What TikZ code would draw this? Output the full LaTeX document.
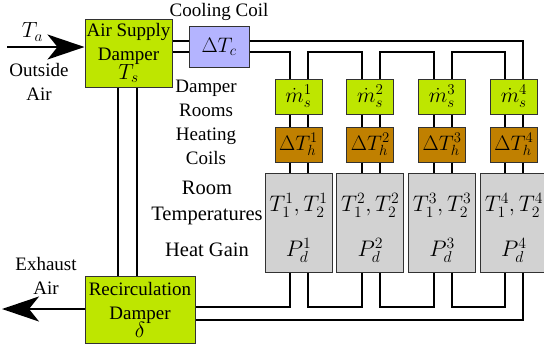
\RequirePackage{fix-cm}
\documentclass[tikz,border=0pt]{standalone}
\usepackage{fontspec}
\setmainfont{Liberation Serif}
\newfontfamily\tnr{Liberation Serif}
\usetikzlibrary{arrows.meta,calc}
\definecolor{limeg}{RGB}{190,230,0}
\definecolor{lav}{RGB}{180,180,255}
\definecolor{brownh}{RGB}{192,128,0}
\definecolor{grayr}{RGB}{210,210,210}
\definecolor{edge}{RGB}{50,50,50}
\newcommand{\lgmath}[1]{{\fontsize{22}{22}\selectfont$#1$}}
\begin{document}
\begin{tikzpicture}[x=1pt,y=-1pt,
  base/.style={draw=edge,line width=1pt,inner sep=0pt,align=center,font=\tnr\fontsize{19}{22}\selectfont},
  greenbox/.style={base,fill=limeg},
  coolbox/.style={base,fill=lav,minimum width=60pt,minimum height=41pt,font=\tnr\fontsize{21}{22}\selectfont},
  dampbox/.style={base,fill=limeg,minimum width=47pt,minimum height=35pt,font=\tnr\fontsize{21.5}{22}\selectfont},
  heatbox/.style={base,fill=brownh,minimum width=47pt,minimum height=35pt,font=\tnr\fontsize{21}{22}\selectfont},
  roombox/.style={base,fill=grayr,minimum width=67pt,minimum height=99pt},
  roomtxt/.style={inner sep=0pt,font=\tnr\fontsize{22.5}{22}\selectfont},
  lbl/.style={inner sep=0pt,align=center,font=\tnr\fontsize{19}{24}\selectfont},
  biglbl/.style={inner sep=0pt,align=center,font=\tnr\fontsize{20.5}{26}\selectfont},
  wire/.style={line width=2pt,draw=black},
  bigarrow/.style={line width=2pt,-{Stealth[length=37pt,width=25pt,inset=10pt]}}]
\useasboundingbox (0,0) rectangle (544,349);
\clip (0,0) rectangle (544,349);

% main boxes
\node[greenbox,minimum width=87pt,minimum height=68pt] (asd) at (128.5,53) {Air Supply\\[2pt]Damper\\[-3pt]\lgmath{T_s}};
\node[coolbox] (cc) at (219,46.5) {$\Delta T_c$};
\node[greenbox,minimum width=110pt,minimum height=67pt] (rd) at (140,309.5) {Recirculation\\[2pt]Damper\\[-4pt]\lgmath{\delta}};

\foreach \i in {1,...,4} {
  \pgfmathsetmacro{\cx}{298.5+71.8*(\i-1)}
  \node[dampbox] (m\i) at (\cx,96.5) {$\dot m_s^{\i}$};
  \node[heatbox] (h\i) at (\cx,144.5) {$\Delta T_h^{\i}$};
  \node[roombox] (r\i) at (\cx,222.5) {};
  \node[roomtxt] (rt\i) at (\cx,205.5) {$T_1^{\i},T_2^{\i}$};
  \node[roomtxt] (rp\i) at (\cx,250.5) {$P_d^{\i}$};
  \coordinate (mL\i) at ([xshift=-8.5pt]m\i.north);
  \coordinate (mR\i) at ([xshift=9.5pt]m\i.north);
  \coordinate (rL\i) at ([xshift=-8.5pt]r\i.south);
  \coordinate (rR\i) at ([xshift=9.5pt]r\i.south);
}

% labels
\node[lbl] (cclbl) at (219,12) {Cooling Coil};
\node[lbl] (ta) at (32.5,32) {\lgmath{T_a}};
\node[lbl] (oa) at (39,82) {Outside\\Air};
\node[lbl] (ea) at (46,276) {Exhaust\\Air};
\node[lbl] (dr) at (206,98) {Damper\\Rooms};
\node[lbl] (hc) at (206,146) {Heating\\Coils};
\node[biglbl] (rt) at (207,202.5) {Room\\Temperatures};
\node[biglbl] (hg) at (207,250) {Heat Gain};

% helper levels
\coordinate (yA) at (0,40.5);
\coordinate (yB) at (0,52);
\coordinate (yC) at (0,307);
\coordinate (yD) at (0,320);
\coordinate (xA) at (118,0);
\coordinate (xB) at (137,0);
\coordinate (inS) at (7,47);
\coordinate (exE) at (2,309);

% arrows
\draw[bigarrow] (inS) -- (asd.west |- inS);
\draw[bigarrow] (rd.west |- exE) -- (exE);

% supply side
\draw[wire] (asd.east |- yA) -- (cc.west |- yA);
\draw[wire] (asd.east |- yB) -- (cc.west |- yB);
\draw[wire] (cc.east |- yA) -| (mR4);
\draw[wire] (cc.east |- yB) -| (mL1);
\foreach \i/\j in {1/2,2/3,3/4} {
  \draw[wire] (mR\i) -- (mR\i |- yB) -| (mL\j);
  \draw[wire] (rR\i) -- (rR\i |- yC) -| (rL\j);
}
\foreach \i in {1,...,4} {
  \draw[wire] (mL\i |- m\i.south) -- (mL\i |- h\i.north);
  \draw[wire] (mR\i |- m\i.south) -- (mR\i |- h\i.north);
  \draw[wire] (mL\i |- h\i.south) -- (mL\i |- r\i.north);
  \draw[wire] (mR\i |- h\i.south) -- (mR\i |- r\i.north);
}
% return side
\draw[wire] (rL1) |- (rd.east |- yC);
\draw[wire] (rR4) |- (rd.east |- yD);
\draw[wire] (asd.south -| xA) -- (rd.north -| xA);
\draw[wire] (asd.south -| xB) -- (rd.north -| xB);
\end{tikzpicture}
\end{document}
